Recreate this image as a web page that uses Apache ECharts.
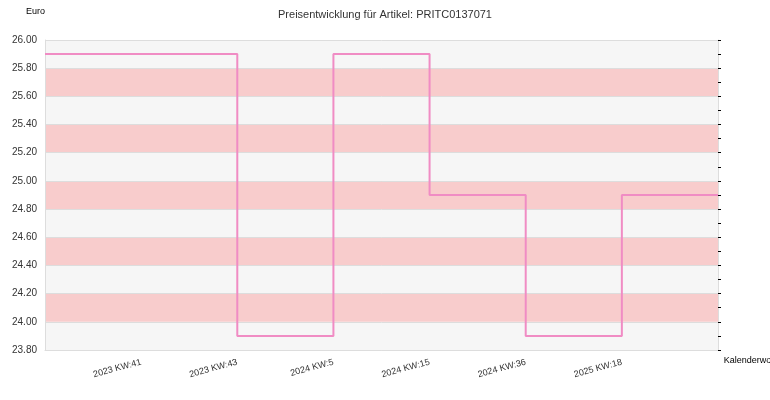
<!DOCTYPE html><html><head><meta charset="utf-8"><script src="https://cdn.jsdelivr.net/npm/echarts@6/dist/echarts.min.js"></script></head><body style="margin:0"><div id="c" style="width:770px;height:400px"></div><script>
const categories=["","2023 KW:41","2023 KW:43","2024 KW:5","2024 KW:15","2024 KW:36","2025 KW:18",""];
const prices=[25.9,25.9,23.9,25.9,24.9,23.9,24.9,24.9];
const ch=echarts.init(document.getElementById('c'));
const F='Liberation Sans, Arial, sans-serif';
ch.setOption({animation:false,
title:{text:'Preisentwicklung für Artikel: PRITC0137071',left:'center',top:4,textStyle:{fontSize:11,fontWeight:'normal',color:'#333',fontFamily:F}},
grid:{left:45,right:52,top:40,bottom:50,outerBoundsMode:'none',containLabel:false},
xAxis:{type:'category',data:categories,boundaryGap:false,name:'Kalenderwoche',nameLocation:'end',nameGap:0,
nameTextStyle:{fontSize:9,color:'#000',fontFamily:F,align:'left',verticalAlign:'top',padding:[6,0,0,-18]},
axisLine:{lineStyle:{color:'#ddd'}},axisTick:{show:false},splitLine:{show:false},
axisLabel:{rotate:15,fontSize:9,color:'#333',fontFamily:F,interval:0,margin:12,formatter:v=>v}},
yAxis:[{type:'value',min:23.8,max:26,interval:0.2,name:'Euro',nameGap:24,nameTextStyle:{fontSize:9,color:'#000',fontFamily:F,align:'right'},
axisLabel:{formatter:v=>v.toFixed(2),fontSize:10,color:'#333',fontFamily:F},
axisLine:{show:true,lineStyle:{color:'#ddd'}},axisTick:{show:false},
splitLine:{lineStyle:{color:'#ddd'}},splitArea:{show:true,areaStyle:{color:['#f6f6f6','#f8cccc']}}},
{type:'value',position:'right',min:23.8,max:26,interval:0.1,axisLabel:{show:false},axisLine:{show:true,lineStyle:{color:'#ddd'}},
axisTick:{show:true,inside:false,length:3,lineStyle:{color:'#000'}},splitLine:{show:false}}],
series:[{type:'line',step:'end',data:prices,symbol:'none',lineStyle:{color:'#f08cc4',width:2}}]});
</script></body></html>
